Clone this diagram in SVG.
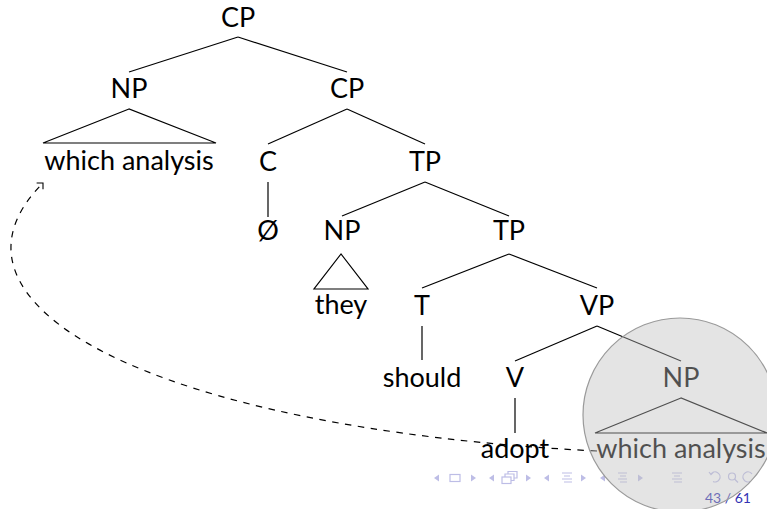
<svg xmlns="http://www.w3.org/2000/svg" width="767" height="509" viewBox="0 0 767 509">
<style>
  .lbl{font-family:Lato,"Liberation Sans","DejaVu Sans",sans-serif;font-size:27px;fill:#000;text-anchor:middle}
  .edge{stroke:#000;stroke-width:1.2;fill:none}
  .tri{stroke:#000;stroke-width:1.2;fill:none;stroke-linejoin:miter}
  .nav{fill:#bdbde6;stroke:none}
  .navs{fill:none;stroke:#bdbde6;stroke-width:1.2}
  .pg{font-family:Lato,"Liberation Sans",sans-serif;font-size:14px;fill:#3333b3;text-anchor:middle}
</style>
<defs>
  <marker id="openArrow" viewBox="-8 -8 10 16" markerWidth="10" markerHeight="16" refX="0" refY="0" orient="auto" markerUnits="userSpaceOnUse">
    <path d="M-4.5,-4.5 L0,0 L-4.5,4.5" fill="none" stroke="#000" stroke-width="1.1"/>
  </marker>
</defs>
<rect width="767" height="509" fill="#fff"/>

<g id="connectors">
  <line class="edge" x1="238" y1="37" x2="129" y2="72"/>
  <line class="edge" x1="238" y1="37" x2="347" y2="72"/>
  <line class="edge" x1="347" y1="109" x2="268" y2="144"/>
  <line class="edge" x1="347" y1="109" x2="425" y2="144"/>
  <line class="edge" x1="268" y1="182" x2="268" y2="217"/>
  <line class="edge" x1="425" y1="182" x2="342" y2="216"/>
  <line class="edge" x1="425" y1="182" x2="509" y2="216"/>
  <line class="edge" x1="509" y1="254" x2="422" y2="288"/>
  <line class="edge" x1="509" y1="254" x2="597" y2="288"/>
  <line class="edge" x1="422" y1="326" x2="422" y2="360"/>
  <line class="edge" x1="597" y1="326" x2="515" y2="361"/>
  <line class="edge" x1="597" y1="326" x2="681" y2="361"/>
  <line class="edge" x1="515" y1="398" x2="515" y2="433"/>
  <path class="edge" d="M597,451 C147,428 -77,303 43,183" stroke-dasharray="6.5 6.5" marker-end="url(#openArrow)"/>
</g>

<g id="cp-top"><text class="lbl" x="238" y="27">CP</text></g>
<g id="np-spec">
  <text class="lbl" x="129" y="98">NP</text>
  <polygon class="tri" points="129,109 43,143 216,143"/>
  <text class="lbl" x="129" y="170">which analysis</text>
</g>
<g id="cp-bar"><text class="lbl" x="347" y="98">CP</text></g>
<g id="c"><text class="lbl" x="268" y="171">C</text></g>
<g id="c-null"><text class="lbl" x="268" y="240">Ø</text></g>
<g id="tp-top"><text class="lbl" x="425" y="171">TP</text></g>
<g id="np-they">
  <text class="lbl" x="342" y="240">NP</text>
  <polygon class="tri" points="341,254 314,289 368,289"/>
  <text class="lbl" x="341" y="314">they</text>
</g>
<g id="tp-bar"><text class="lbl" x="509" y="240">TP</text></g>
<g id="t"><text class="lbl" x="422" y="315">T</text></g>
<g id="t-should"><text class="lbl" x="422" y="387">should</text></g>
<g id="vp"><text class="lbl" x="597" y="315">VP</text></g>
<g id="v"><text class="lbl" x="515" y="387">V</text></g>
<g id="v-adopt"><text class="lbl" x="515" y="458">adopt</text></g>
<g id="np-obj">
  <text class="lbl" x="681" y="387">NP</text>
  <polygon class="tri" points="681,398 595,433 767,433"/>
  <text class="lbl" x="681" y="458">which analysis</text>
</g>

<g id="navigation">
  <polygon class="nav" points="434,478 439,474.5 439,481.5"/>
  <rect class="navs" x="450" y="474.5" width="10" height="7"/>
  <polygon class="nav" points="471,474.5 476,478 471,481.5"/>
  <polygon class="nav" points="489,478 494,474.5 494,481.5"/>
  <rect class="navs" x="502" y="477" width="9" height="6.5"/>
  <path class="navs" d="M505,477 V474 H514 V480.5 H511 M508,474 V471.5 H517 V478 H514"/>
  <polygon class="nav" points="526,474.5 531,478 526,481.5"/>
  <polygon class="nav" points="544,478 549,474.5 549,481.5"/>
  <path class="navs" d="M562,473 H572 M564,476 H570 M562,479 H572 M564,482 H572"/>
  <polygon class="nav" points="581,474.5 586,478 581,481.5"/>
  <polygon class="nav" points="600,478 605,474.5 605,481.5"/>
  <path class="navs" d="M618,473 H627 M620,476 H626 M618,479 H627 M620,482 H627"/>
  <polygon class="nav" points="638,474.5 643,478 638,481.5"/>
  <path class="navs" d="M672,473 H682 M674,476 H680 M672,479 H682 M674,482 H682"/>
  <path class="navs" d="M711,474 A5,5 0 1 1 713,481.5 M709,472 L711,474.5 L713.5,472"/>
  <circle class="navs" cx="732" cy="476.5" r="3.5"/>
  <path class="navs" d="M734.5,479 L738,482.5"/>
  <path class="navs" d="M752,474 A5,5 0 1 0 750,481.5"/>
  <text class="pg" x="728" y="503">43 / 61</text>
</g>

<g id="highlight">
  <circle cx="680" cy="415" r="97" fill="#bebebe" fill-opacity="0.42" stroke="#9a9a9a" stroke-width="1.2"/>
</g>
</svg>
